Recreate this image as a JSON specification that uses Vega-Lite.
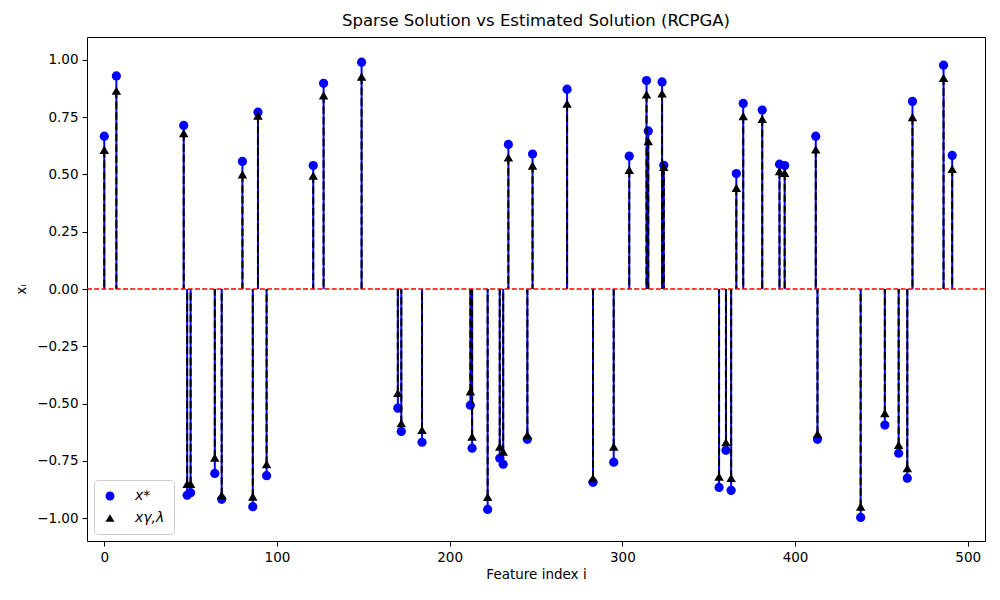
{
  "$schema": "https://vega.github.io/schema/vega-lite/v6.json",
  "width": 898,
  "height": 504,
  "autosize": "none",
  "padding": {"left": 87, "top": 37, "right": 15, "bottom": 59},
  "background": "white",
  "config": {
    "font": "DejaVu Sans",
    "view": {"stroke": "black", "strokeWidth": 1},
    "axis": {
      "grid": false,
      "domain": false,
      "tickColor": "black",
      "tickSize": 5,
      "labelFontSize": 13.5,
      "labelColor": "black",
      "labelPadding": 4,
      "titleFontSize": 13.5,
      "titleFontWeight": "normal",
      "titleColor": "black"
    },
    "legend": {
      "orient": "bottom-left",
      "offset": 7,
      "padding": 9,
      "fillColor": "rgba(255,255,255,0.8)",
      "strokeColor": "#cccccc",
      "cornerRadius": 4,
      "labelFontSize": 14,
      "labelFontStyle": "italic",
      "labelColor": "black",
      "labelOffset": 18,
      "symbolSize": 80,
      "rowPadding": 8,
      "symbolStrokeWidth": 0
    }
  },
  "title": {
    "text": "Sparse Solution vs Estimated Solution (RCPGA)",
    "fontSize": 16.5,
    "fontWeight": "normal",
    "color": "black",
    "offset": 8
  },
  "data": {
    "values": [
      {"i": 0, "xs": 0.667, "xe": 0.607},
      {"i": 7, "xs": 0.93, "xe": 0.866},
      {"i": 46, "xs": 0.714, "xe": 0.68},
      {"i": 48, "xs": -0.9, "xe": -0.851},
      {"i": 50, "xs": -0.889, "xe": -0.851},
      {"i": 64, "xs": -0.805, "xe": -0.736},
      {"i": 68, "xs": -0.918, "xe": -0.9},
      {"i": 80, "xs": 0.557, "xe": 0.5},
      {"i": 86, "xs": -0.95, "xe": -0.906},
      {"i": 89, "xs": 0.772, "xe": 0.757},
      {"i": 94, "xs": -0.815, "xe": -0.764},
      {"i": 121, "xs": 0.539, "xe": 0.495},
      {"i": 127, "xs": 0.898, "xe": 0.845},
      {"i": 149, "xs": 0.99, "xe": 0.927},
      {"i": 170, "xs": -0.52, "xe": -0.454},
      {"i": 172, "xs": -0.622, "xe": -0.586},
      {"i": 184, "xs": -0.669, "xe": -0.615},
      {"i": 212, "xs": -0.507, "xe": -0.447},
      {"i": 213, "xs": -0.695, "xe": -0.644},
      {"i": 222, "xs": -0.962, "xe": -0.907},
      {"i": 229, "xs": -0.739, "xe": -0.688},
      {"i": 231, "xs": -0.765, "xe": -0.71},
      {"i": 234, "xs": 0.631, "xe": 0.575},
      {"i": 245, "xs": -0.656, "xe": -0.637},
      {"i": 248, "xs": 0.589, "xe": 0.539},
      {"i": 268, "xs": 0.872, "xe": 0.809},
      {"i": 283, "xs": -0.844, "xe": -0.826},
      {"i": 295, "xs": -0.756, "xe": -0.688},
      {"i": 304, "xs": 0.58, "xe": 0.52},
      {"i": 314, "xs": 0.91, "xe": 0.85},
      {"i": 315, "xs": 0.69, "xe": 0.645},
      {"i": 323, "xs": 0.904, "xe": 0.854},
      {"i": 324, "xs": 0.54, "xe": 0.533},
      {"i": 356, "xs": -0.866, "xe": -0.819},
      {"i": 360, "xs": -0.704, "xe": -0.669},
      {"i": 363, "xs": -0.879, "xe": -0.824},
      {"i": 366, "xs": 0.504, "xe": 0.441},
      {"i": 370, "xs": 0.81, "xe": 0.755},
      {"i": 381, "xs": 0.781, "xe": 0.743},
      {"i": 391, "xs": 0.545, "xe": 0.515},
      {"i": 394, "xs": 0.539, "xe": 0.507},
      {"i": 412, "xs": 0.667, "xe": 0.609},
      {"i": 413, "xs": -0.656, "xe": -0.632},
      {"i": 438, "xs": -0.997, "xe": -0.95},
      {"i": 452, "xs": -0.594, "xe": -0.542},
      {"i": 460, "xs": -0.717, "xe": -0.68},
      {"i": 465, "xs": -0.826, "xe": -0.782},
      {"i": 468, "xs": 0.819, "xe": 0.75},
      {"i": 486, "xs": 0.977, "xe": 0.922},
      {"i": 491, "xs": 0.583, "xe": 0.524}
    ]
  },
  "encoding": {
    "x": {
      "field": "i",
      "type": "quantitative",
      "scale": {"domain": [-10, 510], "nice": false, "zero": false},
      "axis": {"values": [0, 100, 200, 300, 400, 500], "title": "Feature index i"}
    }
  },
  "layer": [
    {
      "mark": {"type": "rule", "color": "blue", "strokeWidth": 2},
      "encoding": {
        "y": {
          "field": "xs",
          "type": "quantitative",
          "scale": {"domain": [-1.1, 1.1], "nice": false, "zero": false},
          "axis": {
            "values": [-1, -0.75, -0.5, -0.25, 0, 0.25, 0.5, 0.75, 1],
            "format": ".2f",
            "title": "xᵢ",
            "titlePadding": 8
          }
        },
        "y2": {"datum": 0}
      }
    },
    {
      "mark": {"type": "point", "filled": true, "opacity": 1, "size": 85},
      "encoding": {
        "y": {"field": "xs", "type": "quantitative"},
        "color": {
          "datum": "x*",
          "type": "nominal",
          "scale": {"domain": ["x*", "xγ,λ"], "range": ["blue", "black"]},
          "legend": {"title": null}
        },
        "shape": {
          "datum": "x*",
          "type": "nominal",
          "scale": {"domain": ["x*", "xγ,λ"], "range": ["circle", "triangle-up"]},
          "legend": {"title": null}
        }
      }
    },
    {
      "mark": {"type": "rule", "color": "black", "strokeWidth": 2, "strokeDash": [7.5, 3.3]},
      "encoding": {
        "y": {"field": "xe", "type": "quantitative"},
        "y2": {"datum": 0}
      }
    },
    {
      "mark": {"type": "point", "filled": true, "opacity": 1, "size": 90},
      "encoding": {
        "y": {"field": "xe", "type": "quantitative"},
        "color": {"datum": "xγ,λ", "type": "nominal"},
        "shape": {"datum": "xγ,λ", "type": "nominal"}
      }
    },
    {
      "data": {"values": [{"base": 0}]},
      "mark": {"type": "rule", "color": "red", "strokeWidth": 1.4, "strokeDash": [5, 2.2]},
      "encoding": {
        "y": {"field": "base", "type": "quantitative"},
        "x": {"value": 0},
        "x2": {"value": 898}
      }
    }
  ],
  "resolve": {"scale": {"y": "shared"}}
}
